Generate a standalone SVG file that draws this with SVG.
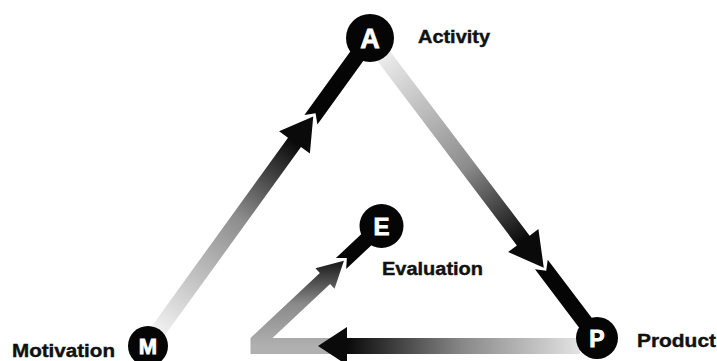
<svg xmlns="http://www.w3.org/2000/svg" width="717" height="361" viewBox="0 0 717 361">
  <style>
    .node circle { fill: #050505; }
    .letter { font-family: "Liberation Sans", Arial, sans-serif; font-weight: bold; fill: #ffffff; stroke: #ffffff; stroke-width: 0.8; text-anchor: middle; }
    .label { font-family: "Liberation Sans", Arial, sans-serif; font-weight: bold; font-size: 18px; fill: #111111; stroke: #111111; stroke-width: 0.4; }
    .seg { fill: #050505; }
  </style>
  <defs>
    <linearGradient id="gLeft" gradientUnits="userSpaceOnUse" x1="158.55" y1="330.41" x2="294.49" y2="142.42">
      <stop offset="0" stop-color="#f0f0f0"/>
      <stop offset="0.6" stop-color="#8c8c8c"/>
      <stop offset="1" stop-color="#0a0a0a"/>
    </linearGradient>
    <linearGradient id="gRight" gradientUnits="userSpaceOnUse" x1="383.27" y1="55.54" x2="523.26" y2="240.55">
      <stop offset="0" stop-color="#ececec"/>
      <stop offset="0.6" stop-color="#8c8c8c"/>
      <stop offset="1" stop-color="#0a0a0a"/>
    </linearGradient>
    <linearGradient id="gBottom" gradientUnits="userSpaceOnUse" x1="578" y1="346" x2="347" y2="346">
      <stop offset="0" stop-color="#e2e2e2"/>
      <stop offset="0.5" stop-color="#888888"/>
      <stop offset="1" stop-color="#0a0a0a"/>
    </linearGradient>
    <linearGradient id="gEval" gradientUnits="userSpaceOnUse" x1="0" y1="346" x2="0" y2="262">
      <stop offset="0" stop-color="#b0b0b0"/>
      <stop offset="0.5" stop-color="#8a8a8a"/>
      <stop offset="1" stop-color="#1a1a1a"/>
    </linearGradient>
  </defs>

  <g id="connectors">
    <!-- M to A -->
    <polygon id="arrow-M-A" fill="url(#gLeft)" points="152.07,325.72 288.01,137.73 279.09,131.29 313.24,116.49 309.89,153.55 300.97,147.11 165.03,335.10"/>
    <polygon id="seg-M-A" class="seg" points="304.42,115.04 359.50,38.87 372.46,48.25 317.38,124.42 315.59,113.25"/>
    <!-- A to P -->
    <polygon id="arrow-A-P" fill="url(#gRight)" points="389.65,50.71 529.64,235.72 538.41,229.09 543.78,267.67 508.11,252.01 516.88,245.38 376.89,60.37"/>
    <polygon id="seg-A-P" class="seg" points="547.75,259.65 599.64,328.23 586.88,337.89 534.99,269.31 546.19,270.86"/>
    <!-- E return path -->
    <polygon id="arrow-to-E" fill="url(#gEval)" points="332,354 250.5,354 250.5,338 319.85,273.04 315.41,268.30 343.94,260.73 334.55,288.72 330.11,283.98 272.47,338 332,338"/>
    <polygon id="seg-E" class="seg" points="335.90,258.00 373.11,223.12 383.37,234.06 346.16,268.94 346.86,258.00"/>
    <!-- P back -->
    <polygon id="arrow-P-back" fill="url(#gBottom)" points="580,338 347,338 347,327 318,346 347,365 347,354 580,354"/>
  </g>

  <g id="node-A" class="node">
    <circle cx="370" cy="38" r="24"/>
    <text class="letter" x="370" y="47.5" font-size="27">A</text>
    <text class="label" x="418" y="43" textLength="72" lengthAdjust="spacingAndGlyphs">Activity</text>
  </g>
  <g id="node-E" class="node">
    <circle cx="381.5" cy="226" r="22"/>
    <text class="letter" x="381.5" y="234.5" font-size="24">E</text>
    <text class="label" x="382" y="275" textLength="101" lengthAdjust="spacingAndGlyphs">Evaluation</text>
  </g>
  <g id="node-M" class="node">
    <circle cx="148" cy="346" r="20"/>
    <text class="letter" x="148" y="354" font-size="22">M</text>
    <text class="label" x="12" y="357" textLength="103" lengthAdjust="spacingAndGlyphs">Motivation</text>
  </g>
  <g id="node-P" class="node">
    <circle cx="597" cy="338" r="21"/>
    <text class="letter" x="597" y="346.5" font-size="23">P</text>
    <text class="label" x="637" y="347" textLength="79" lengthAdjust="spacingAndGlyphs">Product</text>
  </g>
</svg>
